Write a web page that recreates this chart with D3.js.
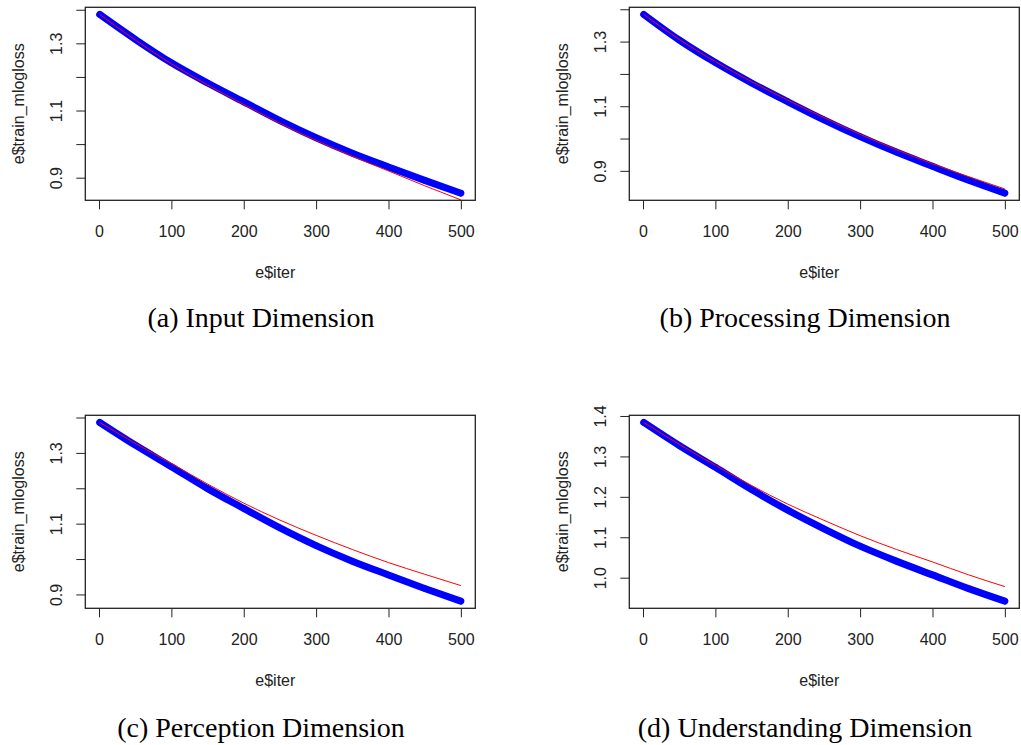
<!doctype html>
<html>
<head>
    <title>train mlogloss</title>
    <script src="https://d3js.org/d3.v7.min.js"></script>
    <style>
        body { margin: 0; background: #fff; }
    </style>
</head>
<body>

<div id="chart"></div>

<script>

    // Data (every 50 boosting rounds)

    const iters = [1, 50, 100, 150, 200, 250, 300, 350, 400, 450, 500];

    const lossInput = [1.386, 1.312, 1.242, 1.182, 1.126, 1.070, 1.019, 0.973, 0.932, 0.892, 0.854];
    const fitInput  = [1.386, 1.310, 1.239, 1.176, 1.118, 1.062, 1.011, 0.964, 0.920, 0.876, 0.834];

    const lossProcessing = [1.384, 1.305, 1.235, 1.172, 1.114, 1.058, 1.006, 0.958, 0.914, 0.871, 0.831];
    const fitProcessing  = [1.384, 1.307, 1.238, 1.176, 1.119, 1.065, 1.013, 0.966, 0.922, 0.882, 0.844];

    const lossPerception = [1.386, 1.322, 1.261, 1.199, 1.143, 1.088, 1.038, 0.994, 0.955, 0.917, 0.881];
    const fitPerception  = [1.386, 1.327, 1.270, 1.212, 1.158, 1.110, 1.067, 1.027, 0.990, 0.957, 0.925];

    const lossUnderstanding = [1.384, 1.327, 1.273, 1.218, 1.167, 1.121, 1.078, 1.041, 1.007, 0.973, 0.942];
    const fitUnderstanding  = [1.384, 1.330, 1.278, 1.228, 1.182, 1.142, 1.104, 1.070, 1.039, 1.007, 0.978];

    const xTicks = [0, 100, 200, 300, 400, 500];
    const yTicks3 = [0.9, 1.0, 1.1, 1.2, 1.3, 1.4];
    const yLabels3 = ["0.9", "", "1.1", "", "1.3", ""];
    const yTicks4 = [1.0, 1.1, 1.2, 1.3, 1.4];
    const yLabels4 = ["1.0", "1.1", "1.2", "1.3", "1.4"];

    const captions = ["(a) Input Dimension", "(b) Processing Dimension",
                      "(c) Perception Dimension", "(d) Understanding Dimension"];

    // Layout

    const width = 1021, height = 745;
    const boxW = 390, boxH = 193;
    const colLeft = [85.3, 629.3];
    const rowTop = [7.3, 415.3];
    const capX = [261, 805];
    const capY = [327, 737];
    const axisFont = "'Liberation Sans', Arial, sans-serif";
    const capFont = "'Liberation Serif', 'Times New Roman', serif";

    var svg = d3.select("#chart")
        .append("svg")
        .attr("width", width)
        .attr("height", height);

    // R style: extend the data range by 4% on each side
    function rRange(vals) {
        var ext = d3.extent(vals);
        var pad = (ext[1] - ext[0]) * 0.04;
        return [ext[0] - pad, ext[1] + pad];
    }

    function drawPanel(col, row, loss, fit, yTicks, yLabels, caption) {
        var left = colLeft[col], top = rowTop[row];

        var x = d3.scaleLinear().domain(rRange(iters)).range([0, boxW]);
        var y = d3.scaleLinear().domain(rRange(loss)).range([boxH, 0]);

        var g = svg.append("g").attr("transform", "translate(" + left + "," + top + ")");

        // x axis
        var xa = g.append("g")
            .attr("transform", "translate(0," + boxH + ")")
            .call(d3.axisBottom(x).tickValues(xTicks).tickSize(9).tickFormat(d3.format("d")));
        xa.select(".domain").remove();
        xa.selectAll("line").attr("stroke", "#222");
        xa.selectAll("text")
            .attr("y", 36.5).attr("dy", 0)
            .attr("fill", "#222")
            .style("font-family", axisFont).style("font-size", "16px");

        // y axis, labels turned like R does by default
        var ya = g.append("g")
            .call(d3.axisLeft(y).tickValues(yTicks).tickSize(9)
                .tickFormat(function(d, i) { return yLabels[i]; }));
        ya.select(".domain").remove();
        ya.selectAll("line").attr("stroke", "#222");
        ya.selectAll("text")
            .attr("x", 0).attr("y", 0).attr("dy", 0)
            .attr("text-anchor", "middle")
            .attr("transform", "translate(-23,0) rotate(-90)")
            .attr("fill", "#222")
            .style("font-family", axisFont).style("font-size", "16px");

        // blue points (drawn as a dense band)
        var line = d3.line()
            .x(function(d, i) { return x(iters[i]); })
            .y(function(d) { return y(d); })
            .curve(d3.curveMonotoneX);

        g.append("path")
            .datum(loss)
            .attr("d", line)
            .attr("fill", "none")
            .attr("stroke", "#0000ff")
            .attr("stroke-width", 7)
            .attr("stroke-linecap", "round");

        g.selectAll("circle.pt")
            .data(loss)
            .enter()
            .append("circle")
                .attr("class", "pt")
                .attr("cx", function(d, i) { return x(iters[i]); })
                .attr("cy", function(d) { return y(d); })
                .attr("r", 2.8)
                .attr("fill", "none")
                .attr("stroke", "#0000ff")
                .attr("stroke-width", 1);

        // red fitted curve
        g.append("path")
            .datum(fit)
            .attr("d", line)
            .attr("fill", "none")
            .attr("stroke", "#ff0000")
            .attr("stroke-width", 1);

        // frame
        g.append("rect")
            .attr("width", boxW).attr("height", boxH)
            .attr("fill", "none")
            .attr("stroke", "#222")
            .attr("stroke-width", 1.3);

        // axis titles
        g.append("text")
            .attr("x", boxW / 2 - 5).attr("y", boxH + 78)
            .attr("text-anchor", "middle")
            .attr("fill", "#222")
            .style("font-family", axisFont).style("font-size", "16px")
            .text("e$iter");

        g.append("text")
            .attr("transform", "translate(-61," + (boxH / 2) + ") rotate(-90)")
            .attr("text-anchor", "middle")
            .attr("fill", "#222")
            .style("font-family", axisFont).style("font-size", "16px")
            .text("e$train_mlogloss");

        // caption
        svg.append("text")
            .attr("x", capX[col]).attr("y", capY[row])
            .attr("text-anchor", "middle")
            .attr("fill", "#000")
            .style("font-family", capFont).style("font-size", "28px")
            .text(caption);
    }

    drawPanel(0, 0, lossInput, fitInput, yTicks3, yLabels3, captions[0]);
    drawPanel(1, 0, lossProcessing, fitProcessing, yTicks3, yLabels3, captions[1]);
    drawPanel(0, 1, lossPerception, fitPerception, yTicks3, yLabels3, captions[2]);
    drawPanel(1, 1, lossUnderstanding, fitUnderstanding, yTicks4, yLabels4, captions[3]);

</script>

</body>
</html>
